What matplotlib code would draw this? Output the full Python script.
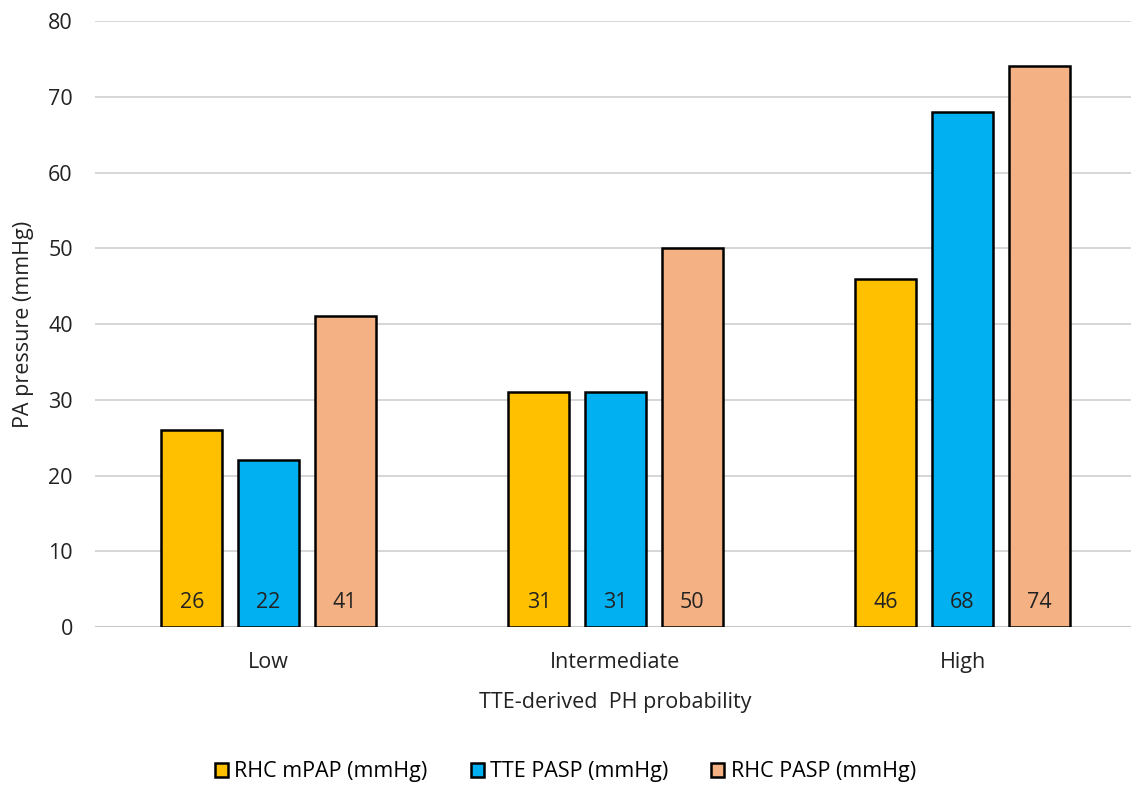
import numpy as np
import matplotlib
matplotlib.use("Agg")
import matplotlib.pyplot as plt

categories = ["Low", "Intermediate", "High"]
series_names = ["RHC mPAP (mmHg)", "TTE PASP (mmHg)", "RHC PASP (mmHg)"]
rhc_mpap = [26, 31, 46]
tte_pasp = [22, 31, 68]
rhc_pasp = [41, 50, 74]
colors = ["#FFC000", "#00B0F0", "#F4B183"]

plt.rcParams["font.family"] = ["Open Sans", "DejaVu Sans"]
fs = 15.5

fig = plt.figure(figsize=(11.31, 7.86), dpi=100)
ax = fig.add_axes([95 / 1131, 1 - 627 / 786, 1041 / 1131, 606 / 786])

x = np.arange(len(categories))
width = 0.176
step = 0.221
for i, (vals, name, col) in enumerate(zip([rhc_mpap, tte_pasp, rhc_pasp], series_names, colors)):
    bars = ax.bar(x + (i - 1) * step, vals, width, color=col, edgecolor="black",
                  linewidth=1.8, label=name, zorder=3)
    # value labels sit near the bottom of each bar
    for b, v in zip(bars, vals):
        ax.text(b.get_x() + b.get_width() / 2, 3.3, str(v), ha="center", va="center",
                fontsize=fs, color="#222222", zorder=4)

ax.set_xlim(-0.5, 2.5)
ax.set_ylim(0, 80)
ax.set_yticks(range(0, 81, 10))
ax.yaxis.grid(True, color="#D0D0D0", linewidth=1.2)
ax.set_axisbelow(True)
for s in ["top", "right", "left", "bottom"]:
    ax.spines[s].set_visible(False)
ax.axhline(0, color="#C8C8C8", linewidth=1.5, zorder=2)
ax.tick_params(axis="y", length=0, labelsize=fs, colors="#222222", pad=16)
ax.set_xticks(x)
ax.set_xticklabels(categories)
ax.tick_params(axis="x", length=0, labelsize=fs, colors="#222222", pad=18)
ax.set_xlabel("TTE-derived  PH probability", fontsize=fs, color="#222222", labelpad=14)
ax.set_ylabel("PA pressure (mmHg)", fontsize=fs, color="#222222", labelpad=10)

fig.legend(loc="center", bbox_to_anchor=(0.5, 1 - 772 / 786), ncol=3, frameon=False,
           fontsize=fs, handlelength=0.6, handleheight=0.6, columnspacing=2.0,
           handletextpad=0.3)

fig.savefig("out.png", dpi=100)
